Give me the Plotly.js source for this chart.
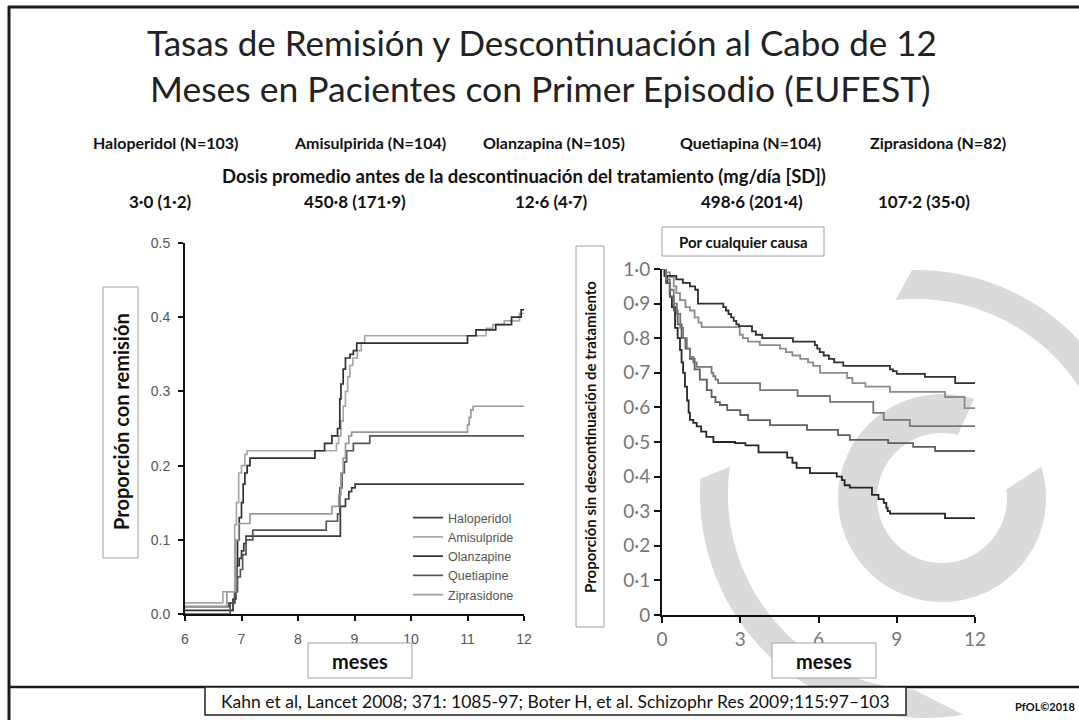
<!DOCTYPE html>
<html><head><meta charset="utf-8">
<script src="https://cdn.plot.ly/plotly-3.0.1.min.js"></script>
<style>html,body{margin:0;padding:0;background:#fff;}#chart{width:1079px;height:720px;}</style>
</head><body><div id="chart"></div>
<script>
// ---------- DATA ----------
const drugs = ['Haloperidol','Amisulpride','Olanzapine','Quetiapine','Ziprasidone'];
const headerLabels = ['Haloperidol (N=103)','Amisulpirida (N=104)','Olanzapina (N=105)','Quetiapina (N=104)','Ziprasidona (N=82)'];
const doseLabels = ['3·0 (1·2)','450·8 (171·9)','12·6 (4·7)','498·6 (201·4)','107·2 (35·0)'];
const remTicks = [0,0.1,0.2,0.3,0.4,0.5];
const remTickText = ['0.0','0.1','0.2','0.3','0.4','0.5'];
const remMonths = [6,7,8,9,10,11,12];
const discTicks = [0,0.1,0.2,0.3,0.4,0.5,0.6,0.7,0.8,0.9,1.0];
const discTickText = ['0','0·1','0·2','0·3','0·4','0·5','0·6','0·7','0·8','0·9','1·0'];
const discMonths = [0,3,6,9,12];

// Remission (left panel), months 6-12
const halRemX = [6,6.78,6.88,6.92,6.96,7.0,7.04,7.08,8.75,8.84,8.9,8.95,9.01,12];
const halRemY = [0.01,0.015,0.03,0.065,0.075,0.085,0.095,0.105,0.145,0.155,0.165,0.17,0.175,0.175];
const amiRemX = [6,6.67,6.88,6.91,6.95,7.0,7.06,7.1,8.68,8.72,8.76,8.8,8.84,8.88,8.92,8.97,9.05,9.12,9.18,11.33,11.45,11.65,11.92,12];
const amiRemY = [0.015,0.03,0.12,0.15,0.19,0.2,0.215,0.22,0.23,0.24,0.26,0.28,0.3,0.32,0.335,0.345,0.355,0.365,0.375,0.385,0.39,0.395,0.405,0.405];
const olaRemX = [6,6.85,6.9,6.93,6.96,7.0,7.03,7.06,7.1,7.15,8.3,8.47,8.6,8.7,8.74,8.76,8.8,8.84,8.92,8.98,9.04,11.0,11.15,11.5,11.78,11.95,12];
const olaRemY = [0.005,0.02,0.065,0.1,0.13,0.15,0.175,0.19,0.2,0.21,0.22,0.23,0.24,0.25,0.29,0.31,0.33,0.345,0.35,0.355,0.365,0.375,0.383,0.39,0.40,0.41,0.41];
const queRemX = [6,6.8,6.88,6.93,6.98,7.02,7.08,7.2,8.5,8.7,8.74,8.78,8.82,8.86,8.98,9.27,12];
const queRemY = [0,0.015,0.03,0.05,0.06,0.08,0.1,0.113,0.125,0.135,0.17,0.19,0.205,0.22,0.23,0.24,0.24];
const zipRemX = [6,6.74,6.9,6.95,7.0,7.15,8.6,8.72,8.76,8.8,8.84,8.9,8.95,11.0,11.03,11.06,11.1,12];
const zipRemY = [0.01,0.03,0.1,0.122,0.122,0.135,0.145,0.16,0.19,0.21,0.23,0.24,0.245,0.255,0.265,0.275,0.28,0.28];

// Discontinuation (right panel), months 0-12
const halDiscX = [0,0.1,0.2,0.3,0.38,0.5,0.6,0.69,0.75,0.81,0.88,0.96,1.02,1.07,1.2,1.33,1.5,1.7,1.97,2.8,3.2,3.7,4.8,5.0,5.16,5.67,6.7,6.9,7.0,7.2,8.05,8.3,8.5,8.6,8.65,8.74,10.85,12];
const halDiscY = [1,0.98,0.96,0.92,0.89,0.83,0.8,0.766,0.73,0.70,0.66,0.62,0.585,0.564,0.555,0.545,0.53,0.515,0.50,0.497,0.49,0.47,0.455,0.44,0.425,0.41,0.40,0.39,0.375,0.368,0.347,0.335,0.324,0.31,0.30,0.293,0.28,0.28];
const amiDiscX = [0,0.15,0.3,0.45,0.55,0.69,0.9,1.07,1.25,1.4,1.52,2.98,3.1,3.3,3.75,4.52,4.75,5.0,5.3,5.6,5.8,6.06,7.1,7.3,7.8,8.74,10.85,11.6,12];
const amiDiscY = [1,0.99,0.977,0.95,0.93,0.91,0.89,0.88,0.86,0.845,0.832,0.81,0.80,0.79,0.78,0.77,0.76,0.75,0.74,0.73,0.72,0.70,0.685,0.67,0.66,0.645,0.63,0.598,0.598];
const olaDiscX = [0,0.1,0.55,0.8,1.07,1.27,1.38,2.35,2.45,2.55,2.65,2.75,2.85,2.95,3.45,3.6,3.84,5.02,5.86,5.95,6.05,6.2,6.4,6.6,6.95,8.74,8.85,9.0,10.08,11.24,12];
const olaDiscY = [1,0.98,0.97,0.96,0.95,0.94,0.90,0.89,0.88,0.87,0.86,0.85,0.84,0.835,0.82,0.81,0.80,0.79,0.78,0.77,0.76,0.75,0.74,0.73,0.72,0.71,0.705,0.697,0.688,0.67,0.67];
const queDiscX = [0,0.15,0.3,0.45,0.6,0.75,0.9,1.07,1.25,1.45,1.72,1.9,2.05,2.22,2.5,3.0,3.3,4.14,5.56,6.75,7.2,8.67,9.63,10.47,12];
const queDiscY = [1,0.96,0.92,0.88,0.84,0.80,0.77,0.74,0.71,0.68,0.65,0.63,0.615,0.607,0.592,0.578,0.563,0.549,0.535,0.52,0.506,0.497,0.486,0.474,0.474];
const zipDiscX = [0,0.15,0.3,0.45,0.57,0.7,0.81,0.95,1.07,1.2,1.33,1.9,1.97,2.05,2.15,3.76,5.2,6.44,8.1,8.5,9.5,12];
const zipDiscY = [1,0.97,0.94,0.9,0.87,0.83,0.80,0.77,0.746,0.73,0.717,0.70,0.69,0.68,0.67,0.65,0.633,0.616,0.584,0.564,0.546,0.546];

// ---------- LAYOUT HELPERS ----------
const W = 1079, H = 720;
const px = x => x / W;
const py = y => 1 - y / H;
const FONT = 'Lato, "Open sans", sans-serif';
const HELV = '"Liberation Sans", Arial, sans-serif';

const remColors = ['#3a3a3a','#a8a8a8','#303030','#555555','#9a9a9a'];
const discColors = ['#262626','#8c8c8c','#303030','#5e5e5e','#777777'];
const remX = [halRemX, amiRemX, olaRemX, queRemX, zipRemX];
const remY = [halRemY, amiRemY, olaRemY, queRemY, zipRemY];
const discX = [halDiscX, amiDiscX, olaDiscX, queDiscX, zipDiscX];
const discY = [halDiscY, amiDiscY, olaDiscY, queDiscY, zipDiscY];

const traces = [];
drugs.forEach((d, i) => {
  traces.push({type:'scatter', mode:'lines', name:d, x:remX[i], y:remY[i], xaxis:'x', yaxis:'y',
    line:{shape:'hv', color:remColors[i], width:1.7}, showlegend:true, hoverinfo:'skip'});
});
drugs.forEach((d, i) => {
  traces.push({type:'scatter', mode:'lines', name:d, x:discX[i], y:discY[i], xaxis:'x2', yaxis:'y2',
    line:{shape:'hv', color:discColors[i], width:1.8}, showlegend:false, hoverinfo:'skip'});
});

// watermark band path (decoration)
function bandPath(cx, cy, rO, rI, o0, o1, i1, i0) {
  const pts = [];
  const n = 80;
  for (let k = 0; k <= n; k++) { const a = (o0 + (o1 - o0) * k / n) * Math.PI / 180; pts.push([cx + rO * Math.cos(a), cy - rO * Math.sin(a)]); }
  for (let k = 0; k <= n; k++) { const a = (i1 + (i0 - i1) * k / n) * Math.PI / 180; pts.push([cx + rI * Math.cos(a), cy - rI * Math.sin(a)]); }
  return 'M' + pts.map(p => px(p[0]).toFixed(5) + ',' + py(p[1]).toFixed(5)).join(' L') + ' Z';
}
const WM = '#dadada';
function rect(x0, y0, x1, y1, color, lw) {
  return {type:'rect', xref:'paper', yref:'paper', x0:px(x0), x1:px(x1), y0:py(y1), y1:py(y0),
    line:{color:color, width:lw}, fillcolor:'#ffffff', layer:'above'};
}
function hline(x0, x1, y, lw) {
  return {type:'line', xref:'paper', yref:'paper', x0:px(x0), x1:px(x1), y0:py(y), y1:py(y), line:{color:'#1a1a1a', width:lw}, layer:'above'};
}
const shapes = [
  {type:'path', xref:'paper', yref:'paper', path:bandPath(916,494,224,195,91,-25,-25,96), fillcolor:WM, line:{width:0}, layer:'below'},
  {type:'path', xref:'paper', yref:'paper', path:bandPath(924,494,224,196,176,280,267,172), fillcolor:WM, line:{width:0}, layer:'below'},
  {type:'path', xref:'paper', yref:'paper', path:bandPath(942,498,104,65,72,377.5,367.6,76), fillcolor:WM, line:{width:0}, layer:'below'},
  // slide frame
  {type:'line', xref:'paper', yref:'paper', x0:px(9), x1:px(9), y0:py(6), y1:py(720), line:{color:'#1a1a1a', width:3}, layer:'above'},
  hline(8, 1079, 7, 3),
  hline(9, 1079, 687, 2.5),
  // boxes
  rect(103, 287, 138, 558, '#a0a0a0', 1),
  rect(308, 643, 412, 678, '#a0a0a0', 1),
  rect(576, 246, 604, 627, '#a0a0a0', 1),
  rect(662, 227, 824, 256, '#a0a0a0', 1),
  rect(772, 643, 876, 678, '#a0a0a0', 1),
  rect(205, 687, 906, 715, '#222222', 1.5)
];

function ann(text, x, y, size, opts) {
  return Object.assign({xref:'paper', yref:'paper', x:px(x), y:py(y), text:text, showarrow:false,
    xanchor:'center', yanchor:'middle', font:{family:FONT, size:size, color:'#111'}}, opts || {});
}
const headerX = [165, 370, 554, 750, 938];
const doseX = [160, 355, 551, 752, 924];
const annotations = [
  ann('Tasas de Remisión y Descontinuación al Cabo de 12', 542, 42, 35, {font:{family:FONT, size:35, color:'#222'}}),
  ann('Meses en Pacientes con Primer Episodio (EUFEST)', 540, 88, 35.5, {font:{family:FONT, size:35.5, color:'#222'}}),
  ann('<b>Dosis promedio antes de la descontinuación del tratamiento (mg/día [SD])</b>', 524, 176, 18.5),
  ann('<b>Proporción con remisión</b>', 121, 422, 20, {textangle:-90}),
  ann('<b>meses</b>', 360, 661, 20),
  ann('<b>meses</b>', 824, 661, 20),
  ann('<b>Proporción sin descontinuación de tratamiento</b>', 590, 437, 15, {textangle:-90}),
  ann('<b>Por cualquier causa</b>', 743, 242, 15),
  ann('Kahn et al, Lancet 2008; 371: 1085-97; Boter H, et al. Schizophr Res 2009;115:97–103', 555, 701, 17.5),
  ann('<b>PfOL©2018</b>', 1077, 706, 11, {xanchor:'right'})
];
headerLabels.forEach((t, i) => annotations.push(ann('<b>' + t + '</b>', headerX[i], 143, 16)));
doseLabels.forEach((t, i) => annotations.push(ann('<b>' + t + '</b>', doseX[i], 201, 17)));

const axBase = {showline:true, linecolor:'#111', linewidth:2, ticks:'outside', tickcolor:'#111', tickwidth:2,
  showgrid:false, zeroline:false, fixedrange:true};
const layout = {
  width:W, height:H, margin:{l:0, r:0, t:0, b:0}, paper_bgcolor:'#fff', plot_bgcolor:'rgba(0,0,0,0)',
  hovermode:false, shapes:shapes, annotations:annotations,
  xaxis:Object.assign({}, axBase, {domain:[px(185), px(524)], range:[6,12], tickvals:remMonths, ticklen:5, ticklabelstandoff:6,
    tickfont:{family:HELV, size:14, color:'#555'}, anchor:'y'}),
  yaxis:Object.assign({}, axBase, {domain:[py(614), py(243)], range:[0,0.5], tickvals:remTicks, ticktext:remTickText, ticklen:5, ticklabelstandoff:5,
    tickfont:{family:HELV, size:14, color:'#555'}, anchor:'x'}),
  xaxis2:Object.assign({}, axBase, {domain:[px(662), px(975)], range:[0,12], tickvals:discMonths, ticklen:6,
    tickfont:{family:FONT, size:19, color:'#777'}, anchor:'y2'}),
  yaxis2:Object.assign({}, axBase, {domain:[py(615), py(269)], range:[0,1], tickvals:discTicks, ticktext:discTickText, ticklen:6,
    tickfont:{family:FONT, size:19, color:'#777'}, anchor:'x2'}),
  legend:{x:px(408), y:py(503), xanchor:'left', yanchor:'top', bgcolor:'rgba(0,0,0,0)',
    font:{family:HELV, size:12.5, color:'#555'}, tracegroupgap:0, itemwidth:30}
};
Plotly.newPlot('chart', traces, layout, {displayModeBar:false, staticPlot:true});
</script></body></html>
